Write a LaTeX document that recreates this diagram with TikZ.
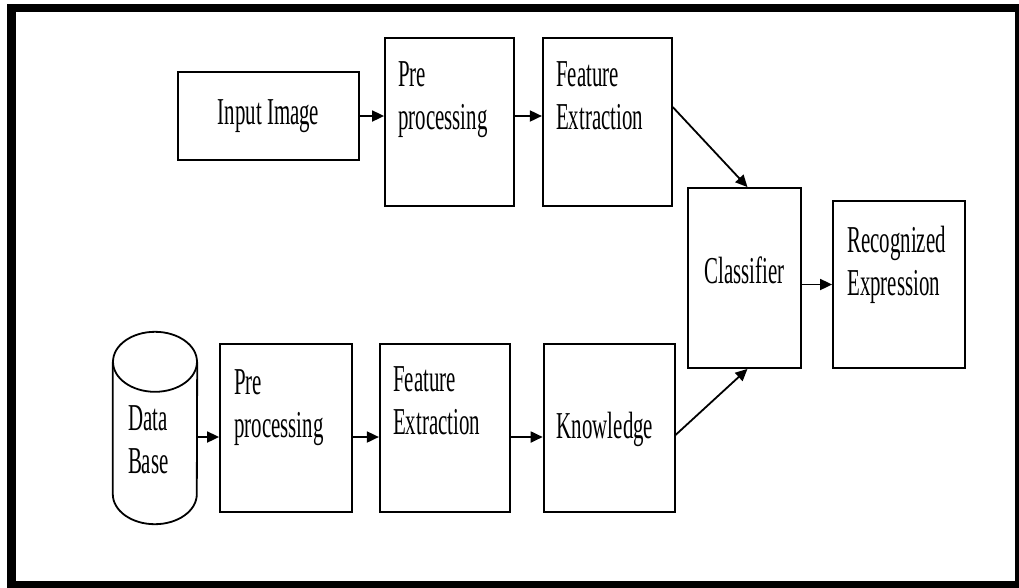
\documentclass[tikz,border=0pt]{standalone}
\usepackage{fontspec}
\newfontfamily\diagfont[FakeStretch=0.55]{Liberation Serif}
\usetikzlibrary{arrows.meta,positioning}
\tikzset{%
	block/.style  = {draw, rectangle, line width=1.8pt, inner sep=0pt, font=\diagfont\fontsize{38pt}{43pt}\selectfont},
	store/.style  = {line width=1.8pt}, % data base outline
	txt/.style    = {anchor=north west, align=left, inner sep=0pt, font=\diagfont\fontsize{38pt}{43pt}\selectfont},
	arrow/.style  = {line width=1.8pt, -{Triangle[length=12pt,width=11pt]}},
}
\begin{document}
\begin{tikzpicture}[x=1pt, y=-1pt]
	\useasboundingbox (0,0) rectangle (1019,587);
	\draw[line width=8.5pt] (11.5,8) rectangle (1019,585.5);

	% recognition branch
	\node[block, minimum width=181pt, minimum height=88pt] (img) at (268.5,116) {Input Image};
	\node[block, minimum width=129pt, minimum height=168pt] (pre1) at (449.5,122) {};
	\node[block, minimum width=129pt, minimum height=168pt, right=27pt of pre1] (fe1) {};
	\node[block, minimum width=113pt, minimum height=180pt, text depth=16pt] (cls) at (744.5,278) {Classifier};
	\node[block, minimum width=132pt, minimum height=167pt] (rec) at (899,284.5) {};

	% training branch
	\node[minimum width=84pt, minimum height=192pt, inner sep=0pt] (db) at (155,428) {};
	\draw[store] ([yshift=-30pt]db.north west) -- ([yshift=30pt]db.south west)
		arc[start angle=180, end angle=360, x radius=42pt, y radius=30pt]
		-- ([yshift=-30pt]db.north east);
	\draw[store] ([yshift=-30pt]db.north) ellipse [x radius=42pt, y radius=30pt];
	\node[block, minimum width=132pt, minimum height=168pt] (pre2) at (286,428) {};
	\node[block, minimum width=130pt, minimum height=168pt, right=26pt of pre2] (fe2) {};
	\node[block, minimum width=131pt, minimum height=168pt, right=32pt of fe2] (kn) {};

	\node[txt] (pre1-t) at ([xshift=14pt,yshift=-24pt]pre1.north west) {Pre\\processing};
	\node[txt] (fe1-t) at ([xshift=14pt,yshift=-24pt]fe1.north west) {Feature\\Extraction};
	\node[txt] (rec-t) at ([xshift=15pt,yshift=-26pt]rec.north west) {Recognized\\Expression};
	\node[txt] (db-t) at ([xshift=15pt,yshift=23pt]db.west) {Data\\Base};
	\node[txt] (pre2-t) at ([xshift=15pt,yshift=-26pt]pre2.north west) {Pre\\processing};
	\node[txt] (fe2-t) at ([xshift=14pt,yshift=-23pt]fe2.north west) {Feature\\Extraction};
	\node[txt] (kn-t) at ([xshift=14pt,yshift=-69pt]kn.north west) {Knowledge};

	\draw[arrow] (img.east) -- (img.east -| pre1.west);
	\draw[arrow] (pre1.east |- img.east) -- (fe1.west |- img.east);
	\draw[arrow] ([yshift=15pt]fe1.east) -- ([xshift=3pt]cls.north);
	\draw[arrow] ([yshift=-7pt]kn.east) -- ([xshift=3pt]cls.south);
	\draw[arrow] (cls.east |- rec.west) -- (rec.west);
	\draw[arrow] ([yshift=-9pt]db.east) -- ([yshift=-9pt]pre2.west);
	\draw[arrow] ([yshift=-9pt]pre2.east) -- ([yshift=-9pt]fe2.west);
	\draw[arrow] ([yshift=-9pt]fe2.east) -- ([yshift=-9pt]kn.west);
\end{tikzpicture}
\end{document}
